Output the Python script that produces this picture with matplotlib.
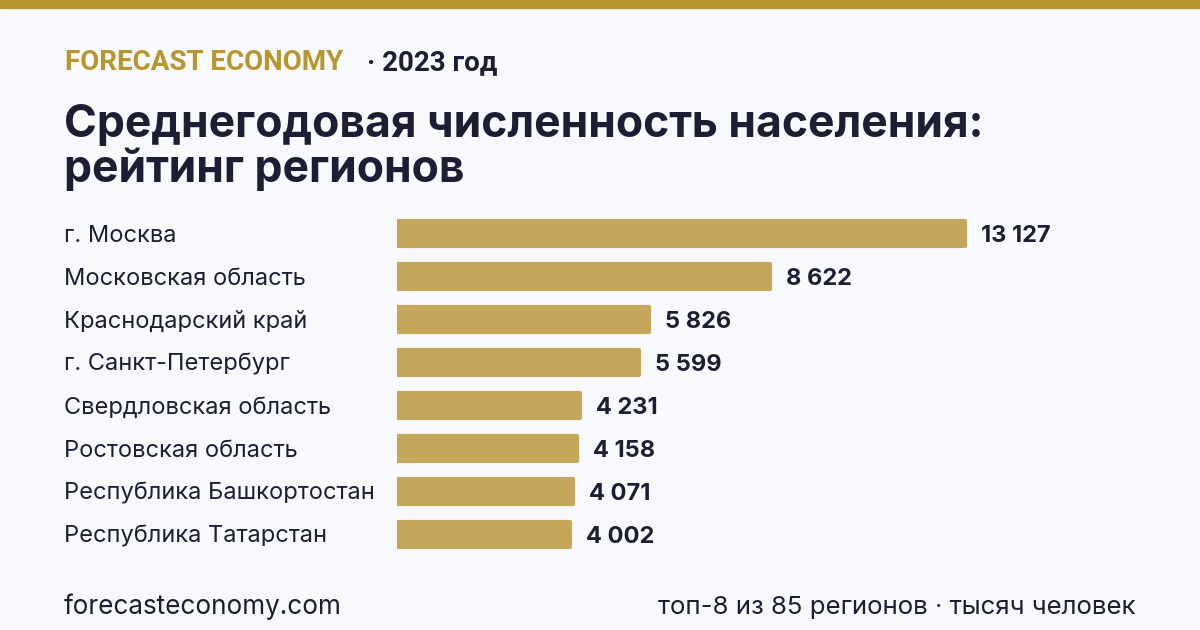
import matplotlib
matplotlib.use('Agg')
import matplotlib.pyplot as plt
from matplotlib.transforms import blended_transform_factory

# data
regions = ['г. Москва', 'Московская область', 'Краснодарский край',
           'г. Санкт-Петербург', 'Свердловская область', 'Ростовская область',
           'Республика Башкортостан', 'Республика Татарстан']
population = [13127, 8622, 5826, 5599, 4231, 4158, 4071, 4002]

GOLD = '#B8962E'
BAR = '#C4A75A'
DARK = '#1D1D33'
BG = '#F8F9FC'

W, H = 1200, 630
fig = plt.figure(figsize=(12, 6.3), dpi=100, facecolor=BG)
plt.rcParams['font.family'] = ['Inter', 'DejaVu Sans']

# top strip
fig.patches.append(plt.Rectangle((0, 1 - 8 / H), 1, 8 / H, transform=fig.transFigure,
                                 color=GOLD, zorder=0))

def fx(px):
    return px / W

def fy(px):
    return 1 - px / H

# header
fig.text(fx(65), fy(70), 'FORECAST ECONOMY', color=GOLD, fontsize=20,
         fontweight='bold', family=['Roboto', 'DejaVu Sans'], va='baseline')
fig.text(fx(367), fy(70), '· 2023 год', color=DARK, fontsize=20,
         fontweight='bold', family=['Roboto', 'DejaVu Sans'], va='baseline')

# title
fig.text(fx(64), fy(137), 'Среднегодовая численность населения:', color=DARK,
         fontsize=32, fontweight='bold', va='baseline')
fig.text(fx(64), fy(182), 'рейтинг регионов', color=DARK,
         fontsize=32, fontweight='bold', va='baseline')

# chart
ax_left, ax_right = 397, 1150
ax_top, ax_bot = 212, 556
ax = fig.add_axes([fx(ax_left), fy(ax_bot), fx(ax_right - ax_left), (ax_bot - ax_top) / H])
ax.set_facecolor('none')
scale = 568 / 13127
ax.set_xlim(0, (ax_right - ax_left) / scale)
ax.set_ylim(len(regions) - 0.5, -0.5)

ypos = list(range(len(regions)))
ax.barh(ypos, population, height=0.6, color=BAR, edgecolor=BAR,
        linewidth=3, joinstyle='round')

trans = blended_transform_factory(fig.transFigure, ax.transData)
for i, (name, val) in enumerate(zip(regions, population)):
    ax.annotate(name, (fx(64), i), xycoords=trans, xytext=(0, -1.5),
                textcoords='offset points', color=DARK, fontsize=17,
                va='center', ha='left')
    label = f'{val:,}'.replace(',', ' ')
    ax.annotate(label, (val, i), xytext=(11.5, -1.5), textcoords='offset points',
                color=DARK, fontsize=17, fontweight='bold', va='center', ha='left')

ax.axis('off')

# footer
fig.text(fx(64), fy(614), 'forecasteconomy.com', color=DARK, fontsize=18.8,
         va='baseline')
fig.text(fx(1135), fy(614), 'топ-8 из 85 регионов · тысяч человек', color=DARK,
         fontsize=18.6, va='baseline', ha='right')

fig.savefig('out.png', dpi=100, facecolor=BG)
